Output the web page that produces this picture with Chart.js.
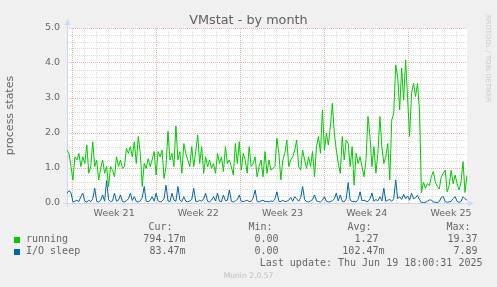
<!DOCTYPE html>
<html><head><meta charset="utf-8">
<script src="https://cdn.jsdelivr.net/npm/chart.js@4"></script>
<style>
html,body{margin:0;padding:0;background:#F0F0F0;}
#wrap{position:relative;width:497px;height:287px;overflow:hidden;background:#F0F0F0;font-family:'DejaVu Sans';}
canvas{position:absolute;left:0;top:0;}
.t{position:absolute;white-space:pre;}
.mono{font-family:'DejaVu Sans Mono';font-size:10px;line-height:12px;color:#666;}
.sq{position:absolute;width:6px;height:6px;}
</style></head><body>
<div id="wrap">
<canvas id="c" width="497" height="287"></canvas>
<div class="t" style="left:0;width:497px;text-align:center;top:12.4px;font-size:12.8px;line-height:15px;color:#606060;">VMstat - by month</div>
<div class="t" style="left:484px;top:15px;writing-mode:vertical-rl;font-size:6.8px;line-height:8px;color:#C8C8C8;">RRDTOOL / TOBI OETIKER</div>
<div class="t" style="left:0;width:497px;text-align:center;top:272px;font-size:7.6px;line-height:1;color:#BDBDBD;">Munin 2.0.57</div>
<div id="legend"></div>
</div>
<script>
// ---------- data ----------
const running = [
1.51,1.42,1.04,0.66,1.32,1.23,1.42,1.04,1.32,1.13,
1.66,0.85,1.04,1.75,1.04,1.23,0.66,0.99,1.23,0.85,
1.04,0.47,1.04,0.94,0.75,1.32,1.04,1.23,0.99,1.04,
1.56,1.42,1.61,1.32,1.75,1.13,1.9,1.42,0.47,1.13,
0.99,1.27,1.04,1.23,1.47,0.80,1.47,1.32,1.51,0.70,
1.04,2.05,1.23,1.42,1.04,2.2,1.23,1.47,0.85,1.70,
1.42,1.23,1.04,1.61,1.04,1.47,1.95,1.13,1.61,0.85,
1.32,1.04,1.23,0.99,1.13,0.85,1.42,1.13,1.32,0.90,
1.61,1.13,1.23,1.04,0.80,1.70,1.13,1.75,0.94,1.42,
1.23,0.85,1.61,1.04,1.13,1.32,0.75,1.04,1.23,0.75,
1.47,0.85,1.23,0.94,0.99,1.04,1.85,1.42,0.66,1.23,
1.42,1.8,1.04,1.23,1.32,1.51,1.8,1.04,
0.94,1.51,1.23,0.99,1.32,1.04,1.47,0.75,
1.61,1.9,1.42,2.66,1.51,1.99,1.66,2.18,
2.85,1.99,1.51,1.13,0.85,1.9,1.23,1.8,
1.70,1.04,1.61,0.51,1.42,1.13,1.32,1.04,
0.75,1.23,2.47,1.9,1.04,1.61,0.85,1.42,
2.47,1.61,1.13,1.32,1.70,0.66,2.37,2.56,
3.94,3.6,2.66,3.85,2.94,4.09,3.0,1.9,3.13,3.42,3.04,3.42,2.66,
0.3,0.6,0.42,0.55,0.5,0.75,0.9,0.6,0.47,0.4,0.75,0.85,
0.94,0.32,0.5,0.94,0.55,0.8,0.55,0.37,0.6,1.18,0.3,0.79
];
const ioSleep = [
0.28,0.35,0.30,0.03,0.05,0.08,0.04,0.18,0.28,0.05,
0.03,0.08,0.04,0.12,0.42,0.05,0.03,0.08,0.23,0.05,
0.64,0.10,0.04,0.06,0.28,0.05,0.08,0.23,0.04,0.03,
0.06,0.12,0.28,0.07,0.18,0.04,0.03,0.06,0.15,0.47,
0.05,0.04,0.08,0.18,0.05,0.28,0.06,0.03,0.05,0.12,
0.51,0.06,0.04,0.28,0.08,0.05,0.47,0.08,0.04,0.18,
0.05,0.03,0.06,0.10,0.42,0.05,0.04,0.08,0.05,0.12,
0.28,0.05,0.03,0.08,0.18,0.06,0.28,0.05,0.04,0.23,
0.06,0.08,0.37,0.05,0.03,0.06,0.10,0.23,0.05,0.04,
0.06,0.08,0.04,0.05,0.14,0.37,0.05,0.03,0.06,0.08,
0.04,0.05,0.03,0.06,0.04,0.12,0.32,0.05,0.04,0.08,
0.04,0.05,0.08,0.16,0.05,0.18,0.12,0.05,0.15,0.47,
0.10,0.04,0.03,0.06,0.10,0.23,0.06,0.04,0.03,0.08,
0.18,0.05,0.03,0.04,0.06,0.12,0.28,0.06,0.23,0.05,
0.03,0.12,0.58,0.08,0.04,0.05,0.03,0.10,0.32,0.06,
0.08,0.05,0.04,0.12,0.28,0.05,0.10,0.06,0.18,0.06,
0.42,0.05,0.08,0.10,0.05,0.12,
0.66,0.12,0.18,0.10,0.25,0.12,0.20,0.08,0.28,0.12,0.15,0.22,0.10,
0.02,0.01,0.02,0.05,0.09,0.08,0.03,0.02,0.01,0.04,0.16,0.18,
0.04,0.02,0.03,0.05,0.13,0.18,0.05,0.02,0.04,0.18,0.12,0.08
];
const samples = running.map((_, i) => i);
const weekLabels = ['Week 21','Week 22','Week 23','Week 24','Week 25'];
const weekStartDays = [0, 7, 14, 21, 28];   // days after the first day line
const firstDayLine = 5/12;                  // day (in days from left edge) of the first midnight
const spanDays = 33.25;                     // days shown
const yTickValues = [0,0.2,0.4,0.6,0.8,1,1.2,1.4,1.6,1.8,2,2.2,2.4,2.6,2.8,3,3.2,3.4,3.6,3.8,4,4.2,4.4,4.6,4.8,5];
const seriesNames = ['running','I/O sleep'];
const seriesColors = ['#00CC00','#0066B3'];
const statHeaders = ['Cur:','Min:','Avg:','Max:'];
const statRunning = ['794.17m','0.00','1.27','19.37'];
const statIoSleep = ['83.47m','0.00','102.47m','7.89'];
const lastUpdate = 'Last update: Thu Jun 19 18:00:31 2025';

// ---------- legend (HTML text) ----------
const L = document.getElementById('legend');
function txt(s, top, opts){
  const d = document.createElement('div');
  d.className = 't mono'; d.textContent = s; d.style.top = top + 'px';
  if (opts.right !== undefined) d.style.right = (497 - opts.right) + 'px';
  else d.style.left = opts.left + 'px';
  L.appendChild(d);
}
const headerRight = [172, 272, 371, 470];
const valueRight = [[185, 278, 378, 477], [185, 278, 384, 477]];
const rowTop = [221.4, 233.1, 244.8, 256.5];
statHeaders.forEach((h, i) => txt(h, rowTop[0], {right: headerRight[i] + 0.5}));
[statRunning, statIoSleep].forEach((vals, r) => {
  const sq = document.createElement('div');
  sq.className = 'sq'; sq.style.left = '14px'; sq.style.top = (237 + 12*r) + 'px';
  sq.style.background = seriesColors[r]; L.appendChild(sq);
  txt(seriesNames[r], rowTop[1 + r], {left: 26});
  vals.forEach((v, i) => txt(v, rowTop[1 + r], {right: valueRight[r][i] + 0.5}));
});
txt(lastUpdate, rowTop[3], {right: 482.5});

// ---------- chart ----------
Chart.defaults.font.family = 'DejaVu Sans';
const AXIS = '#CFD6F8', MAJOR = '#EBAEAE', MINOR = '#DCDCDC';

const gridTicks = [];
for (let d = 0; firstDayLine + d < spanDays; d++) gridTicks.push({value: firstDayLine + d, kind: weekStartDays.includes(d) ? 'week' : 'day'});
weekStartDays.forEach((w, i) => gridTicks.push({value: firstDayLine + w + 3.5, kind: 'label', label: weekLabels[i]}));
gridTicks.sort((a, b) => a.value - b.value);

const deco = {
  id: 'deco',
  beforeDraw(chart) {
    const {ctx, chartArea: a} = chart;
    ctx.save(); ctx.fillStyle = '#FFFFFF';
    ctx.fillRect(a.left, a.top, a.right - a.left, a.bottom - a.top);
    ctx.restore();
  },
  beforeDatasetsDraw(chart) {
    const {ctx, chartArea: a} = chart;
    const x = Math.round(a.left) + 0.5, y = Math.round(a.bottom) + 0.5;
    ctx.save();
    ctx.strokeStyle = AXIS; ctx.fillStyle = AXIS; ctx.lineWidth = 1;
    ctx.beginPath();
    ctx.moveTo(x, y + 4); ctx.lineTo(x, a.top - 5);
    ctx.moveTo(x - 4, y); ctx.lineTo(a.right + 2, y);
    ctx.stroke();
    ctx.beginPath();
    ctx.moveTo(x, a.top - 9); ctx.lineTo(x - 3, a.top - 3); ctx.lineTo(x + 3, a.top - 3); ctx.closePath(); ctx.fill();
    ctx.beginPath();
    ctx.moveTo(a.right + 7, y); ctx.lineTo(a.right + 1, y - 3); ctx.lineTo(a.right + 1, y + 3); ctx.closePath(); ctx.fill();
    ctx.restore();
  }
};

new Chart(document.getElementById('c'), {
  type: 'line',
  data: {
    labels: samples,
    datasets: [
      {label: seriesNames[0], data: running, borderColor: seriesColors[0], borderWidth: 1, pointRadius: 0, tension: 0, fill: false, order: 1, xAxisID: 'x', yAxisID: 'y'},
      {label: seriesNames[1], data: ioSleep, borderColor: seriesColors[1], borderWidth: 1, pointRadius: 0, tension: 0, fill: false, order: 0, xAxisID: 'x', yAxisID: 'y'}
    ]
  },
  options: {
    responsive: false, animation: false, devicePixelRatio: 1,
    layout: {padding: {left: 0, right: 30, top: 28, bottom: 64}},
    plugins: {legend: {display: false}, title: {display: false}, tooltip: {enabled: false}},
    scales: {
      x: {type: 'category', display: false},
      xg: {
        type: 'linear', position: 'bottom', min: 0, max: spanDays,
        afterBuildTicks: s => { s.ticks = gridTicks.map(t => ({value: t.value})); },
        afterFit: s => { s.height = 20; },
        grid: {
          drawTicks: false, lineWidth: 1,
          color: c => { const t = gridTicks[c.index]; return !t || t.kind === 'label' ? 'rgba(0,0,0,0)' : (t.kind === 'week' ? MAJOR : MINOR); }
        },
        border: {display: false, dash: [1, 1]},
        ticks: {
          autoSkip: false, maxRotation: 0, minRotation: 0, padding: 4.5, color: '#666', font: {size: 9.5},
          callback: (v, i) => gridTicks[i] && gridTicks[i].kind === 'label' ? gridTicks[i].label : ''
        }
      },
      y: {
        min: 0, max: 5,
        afterBuildTicks: s => { s.ticks = yTickValues.map(v => ({value: v})); },
        afterFit: s => { s.width = 67; },
        grid: {
          drawTicks: false, lineWidth: 1,
          color: c => { const v = c.tick ? c.tick.value : 0; if (v === 0) return 'rgba(0,0,0,0)'; return Math.abs(v - Math.round(v)) < 1e-6 ? MAJOR : MINOR; }
        },
        border: {display: false, dash: [1, 1]},
        ticks: {
          autoSkip: false, padding: 7, color: '#666', font: {size: 9.5},
          callback: v => Math.abs(v - Math.round(v)) < 1e-6 ? v.toFixed(1) : ''
        },
        title: {display: true, text: 'process states', color: '#666', font: {size: 11}, padding: {top: 4, bottom: 0}}
      }
    }
  },
  plugins: [deco]
});
</script>
</body></html>
